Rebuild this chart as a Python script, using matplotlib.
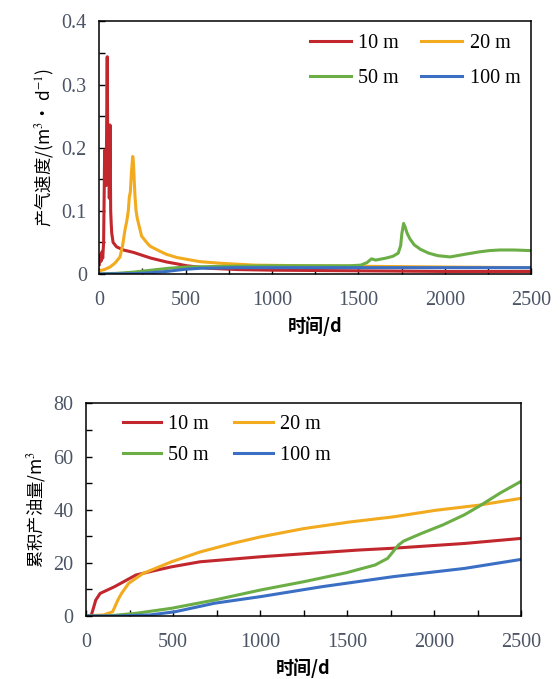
import matplotlib
matplotlib.use("Agg")
import matplotlib.pyplot as plt
from matplotlib.ticker import MultipleLocator

plt.rcParams['font.family'] = ['Liberation Serif', 'Noto Sans CJK SC', 'DejaVu Sans']
plt.rcParams['mathtext.fontset'] = 'stix'

# 产气速度 (m3/d)
t_10 = [0, 5, 10, 15, 20, 25, 28, 31, 34, 37, 40, 43, 46, 49, 52, 55, 58, 62, 66, 69, 72, 80, 100, 140, 200, 255, 300, 390, 450, 506, 640, 800, 1000, 1500, 2000, 2500]
q_10 = [0.015, 0.03, 0.02, 0.035, 0.025, 0.05, 0.12, 0.196, 0.15, 0.19, 0.14, 0.25, 0.344, 0.2, 0.16, 0.2, 0.12, 0.236, 0.1, 0.08, 0.065, 0.05, 0.043, 0.038, 0.034, 0.029, 0.025, 0.019, 0.016, 0.013, 0.009, 0.007, 0.006, 0.005, 0.004, 0.004]
t_20 = [0, 30, 62, 90, 120, 135, 149, 160, 168, 174, 180, 186, 191, 194, 198, 202, 207, 213, 220, 236, 245, 274, 294, 351, 390, 450, 583, 700, 900, 1200, 1600, 2000, 2500]
q_20 = [0.005, 0.007, 0.011, 0.017, 0.027, 0.045, 0.07, 0.085, 0.1, 0.122, 0.13, 0.16, 0.178, 0.186, 0.175, 0.15, 0.122, 0.1, 0.088, 0.07, 0.06, 0.05, 0.044, 0.036, 0.031, 0.026, 0.0195, 0.017, 0.014, 0.013, 0.012, 0.011, 0.01]
t_50 = [0, 100, 200, 300, 400, 500, 700, 1000, 1300, 1450, 1514, 1550, 1576, 1600, 1658, 1700, 1731, 1745, 1752, 1762, 1770, 1783, 1800, 1824, 1860, 1907, 1960, 2031, 2113, 2200, 2258, 2320, 2400, 2500]
q_50 = [0.0, 0.001, 0.003, 0.006, 0.009, 0.011, 0.012, 0.013, 0.013, 0.013, 0.014, 0.018, 0.024, 0.022, 0.025, 0.028, 0.033, 0.045, 0.064, 0.08, 0.075, 0.064, 0.055, 0.046, 0.039, 0.033, 0.029, 0.027, 0.031, 0.035, 0.037, 0.038, 0.038, 0.037]
t_100 = [0, 200, 300, 390, 450, 500, 583, 800, 1200, 1600, 2000, 2250, 2500]
q_100 = [0.0, 0.0005, 0.002, 0.004, 0.006, 0.0075, 0.009, 0.01, 0.01, 0.01, 0.01, 0.01, 0.01]

# 累积产油量 (m3)
c_t_10 = [0, 29, 45, 56, 81, 163, 286, 368, 491, 655, 1004, 1559, 1764, 2174, 2500]
c_10 = [0, 0, 3.5, 6.0, 8.5, 11.0, 15.4, 16.7, 18.5, 20.4, 22.3, 24.8, 25.5, 27.3, 29.2]
c_t_20 = [0, 101, 153, 183, 204, 245, 327, 491, 655, 840, 1004, 1251, 1517, 1764, 2010, 2256, 2500]
c_20 = [0, 0.4, 1.6, 6.0, 8.5, 12.3, 16.0, 20.4, 24.1, 27.3, 29.8, 32.9, 35.4, 37.3, 39.8, 41.7, 44.3]
c_t_50 = [0, 122, 286, 491, 738, 1004, 1251, 1497, 1661, 1733, 1764, 1795, 1825, 1928, 2051, 2174, 2256, 2380, 2500]
c_50 = [0, 0, 1.0, 2.9, 6.0, 9.8, 12.9, 16.3, 19.2, 21.7, 24.2, 26.7, 28.2, 31.1, 34.3, 38.1, 41.2, 46.3, 50.7]
c_t_100 = [0, 183, 368, 512, 738, 1004, 1353, 1764, 2174, 2500]
c_100 = [0, 0, 0.4, 1.6, 4.8, 7.3, 11.0, 14.8, 17.9, 21.3]

labels = ['10 m', '20 m', '50 m', '100 m']
colors = ['#C1272D', '#F2AA1F', '#6CAE46', '#3B6FC4']
tick_color = '#4c5566'
cjk = ['Noto Sans CJK SC', 'DejaVu Sans']

fig = plt.figure(figsize=(5.6, 6.79), dpi=100)
ax1 = fig.add_axes([0.1773, 0.5965, 0.771, 0.372])
ax2 = fig.add_axes([0.1536, 0.0928, 0.777, 0.313])

for t, q, lab, c in zip([t_10, t_20, t_50, t_100], [q_10, q_20, q_50, q_100], labels, colors):
    ax1.plot(t, q, color=c, lw=2.2, label=lab)
for t, q, lab, c in zip([c_t_10, c_t_20, c_t_50, c_t_100], [c_10, c_20, c_50, c_100], labels, colors):
    ax2.plot(t, q, color=c, lw=2.2, label=lab)

ax1.set_xlim(0, 2500)
ax1.set_ylim(0, 0.4)
ax1.set_yticks([0, 0.1, 0.2, 0.3, 0.4])
ax1.set_yticklabels(['0', '0.1', '0.2', '0.3', '0.4'])
ax1.yaxis.set_minor_locator(MultipleLocator(0.05))

ax2.set_xlim(0, 2500)
ax2.set_ylim(0, 80)
ax2.yaxis.set_major_locator(MultipleLocator(20))
ax2.yaxis.set_minor_locator(MultipleLocator(10))

for ax in (ax1, ax2):
    ax.xaxis.set_major_locator(MultipleLocator(500))
    ax.xaxis.set_minor_locator(MultipleLocator(250))
    ax.tick_params(which='both', direction='in', top=False, right=False,
                   length=4, width=1.0, labelsize=14.5, labelcolor=tick_color)
    ax.tick_params(axis='x', which='both', pad=12)
    ax.tick_params(axis='y', which='both', pad=9)
    for s in ax.spines.values():
        s.set_linewidth(1.1)
    ax.set_xlabel('时间/d', family=cjk, fontsize=13, fontweight='bold', labelpad=5)

ax1.set_ylabel('产气速度/(m$^3$· d$^{-1}$)', family=cjk, fontsize=12.5, labelpad=4)
ax2.set_ylabel('累积产油量/m$^3$', family=cjk, fontsize=12.5, labelpad=4)

# 两列图例, 按行排列: 10 m, 20 m / 50 m, 100 m
order = [0, 2, 1, 3]
h1, l1 = ax1.get_legend_handles_labels()
ax1.legend([h1[i] for i in order], [l1[i] for i in order], ncol=2,
           loc='upper right', bbox_to_anchor=(0.975, 0.95), frameon=False,
           fontsize=14.5, handlelength=2.05, columnspacing=1.1, handletextpad=0.35,
           labelspacing=0.8, borderpad=0, borderaxespad=0)
h2, l2 = ax2.get_legend_handles_labels()
ax2.legend([h2[i] for i in order], [l2[i] for i in order], ncol=2,
           loc='upper left', bbox_to_anchor=(0.085, 0.945), frameon=False,
           fontsize=14.5, handlelength=1.9, columnspacing=1.25, handletextpad=0.35,
           labelspacing=0.6, borderpad=0, borderaxespad=0)

fig.savefig('out.png', dpi=100)
